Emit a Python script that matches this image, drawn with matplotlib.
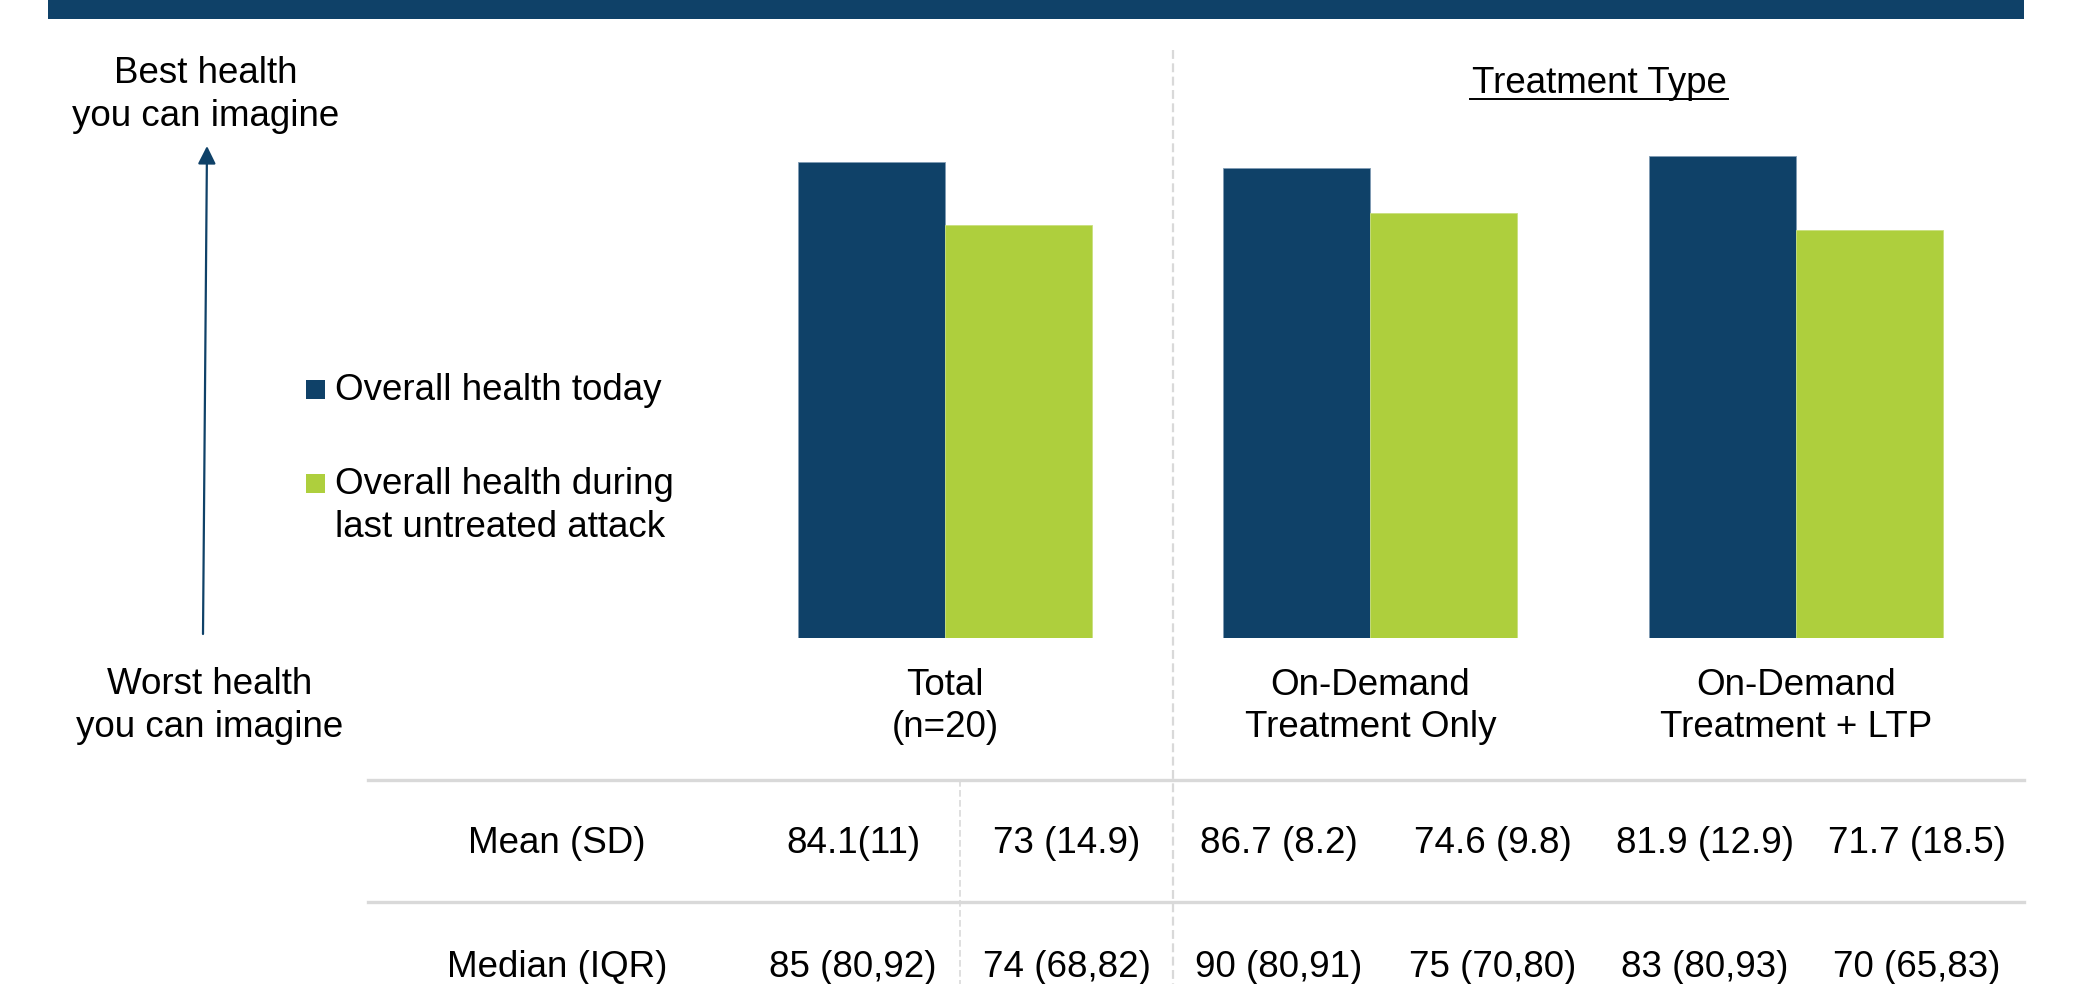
import matplotlib
matplotlib.use("Agg")
import matplotlib.pyplot as plt
from matplotlib.patches import Rectangle
from matplotlib.lines import Line2D

plt.rcParams['font.family'] = ['Liberation Sans', 'DejaVu Sans']

# ---------------- data ----------------
categories = ["Total\n(n=20)", "On-Demand\nTreatment Only", "On-Demand\nTreatment + LTP"]
health_today = [84.1, 83.1, 85.2]
health_attack = [73.0, 75.1, 72.1]
series_labels = ["Overall health today", "Overall health during\nlast untreated attack"]

row_labels = ["Mean (SD)", "Median (IQR)"]
mean_sd = ["84.1(11)", "73 (14.9)", "86.7 (8.2)", "74.6 (9.8)", "81.9 (12.9)", "71.7 (18.5)"]
median_iqr = ["85 (80,92)", "74 (68,82)", "90 (80,91)", "75 (70,80)", "83 (80,93)", "70 (65,83)"]
group_title = "Treatment Type"
top_label = ["Best health", "you can imagine"]
bottom_label = ["Worst health", "you can imagine"]

# ---------------- style ----------------
W, H = 2086, 984
DPI = 100
NAVY = "#0F4168"
GREEN = "#AECF3D"
GRID = "#D9D9D9"
FS = 26.5

fig = plt.figure(figsize=(W / DPI, H / DPI), dpi=DPI)

# overlay axes in pixel coordinates (y downwards)
ov = fig.add_axes([0, 0, 1, 1])
ov.set_xlim(0, W)
ov.set_ylim(H, 0)
ov.axis("off")

# bar axes
base_px = 638.0
px_per_unit = 5.656
top_px = base_px - 100 * px_per_unit
ax = fig.add_axes([0, (H - base_px) / H, 1, (base_px - top_px) / H])
ax.set_ylim(0, 100)
grp_px = [945.0, 1370.5, 1796.0]
step = grp_px[1] - grp_px[0]
ax.set_xlim(-grp_px[0] / step, (W - grp_px[0]) / step)
ax.axis("off")
ax.patch.set_alpha(0)

bw = 147.0 / step
xs = list(range(len(categories)))
ax.bar([x - bw / 2 for x in xs], health_today, width=bw, color=NAVY,
       edgecolor="#7F9BB3", linewidth=0.6, label=series_labels[0])
ax.bar([x + bw / 2 for x in xs], health_attack, width=bw, color=GREEN,
       edgecolor="#C9E07E", linewidth=0.6, label=series_labels[1])

# category labels under bars
for x, lab in zip(xs, categories):
    for k, line in enumerate(lab.split("\n")):
        ax.annotate(line, xy=(x, 0), xycoords="data",
                    xytext=(0, -(57 + 42 * k)), textcoords="offset pixels",
                    ha="center", va="baseline", fontsize=FS, color="black")

# top banner
ov.add_patch(Rectangle((48, 0), 2024 - 48, 19, color=NAVY, lw=0))

# vertical dashed separators
ov.add_line(Line2D([1172.5, 1172.5], [50, H], color=GRID, lw=1.6, ls=(0, (4, 2))))
ov.add_line(Line2D([960, 960], [780, H], color=GRID, lw=1.2, ls=(0, (4, 2))))

# table horizontal rules
for yy in (780, 902):
    ov.add_line(Line2D([368, 2024], [yy, yy], color=GRID, lw=2.4))

# Treatment Type heading (underlined)
t = ov.text(1599, 93, group_title, ha="center", va="baseline", fontsize=FS, color="black")
ov.add_line(Line2D([1470, 1728], [99, 99], color="black", lw=1.4))

# arrow and its labels
ov.annotate("", xy=(207, 146), xytext=(203, 634), xycoords="data",
            arrowprops=dict(arrowstyle="-|>,head_length=0.4,head_width=0.2",
                            color=NAVY, lw=1.6, mutation_scale=27,
                            shrinkA=0, shrinkB=0))
ov.text(206, 83, top_label[0], ha="center", va="baseline", fontsize=FS)
ov.text(206, 126, top_label[1], ha="center", va="baseline", fontsize=FS)
ov.text(210, 694, bottom_label[0], ha="center", va="baseline", fontsize=FS)
ov.text(210, 737, bottom_label[1], ha="center", va="baseline", fontsize=FS)

# legend (manual)
ov.add_patch(Rectangle((306, 380), 19, 19, color=NAVY, lw=0))
ov.add_patch(Rectangle((306, 474), 19, 19, color=GREEN, lw=0))
ov.text(335, 400, series_labels[0], ha="left", va="baseline", fontsize=FS)
leg2 = series_labels[1].split("\n")
ov.text(335, 494, leg2[0], ha="left", va="baseline", fontsize=FS)
ov.text(335, 537, leg2[1], ha="left", va="baseline", fontsize=FS)

# table values
col_x = [853, 1067, 1279, 1493, 1705, 1917]
row_base = [853, 977]
for r, (lab, vals) in enumerate(zip(row_labels, [mean_sd, median_iqr])):
    ov.text(557, row_base[r], lab, ha="center", va="baseline", fontsize=FS)
    for cx, v in zip(col_x, vals):
        ov.text(cx, row_base[r], v, ha="center", va="baseline", fontsize=FS)

fig.savefig("out.png", dpi=DPI)
